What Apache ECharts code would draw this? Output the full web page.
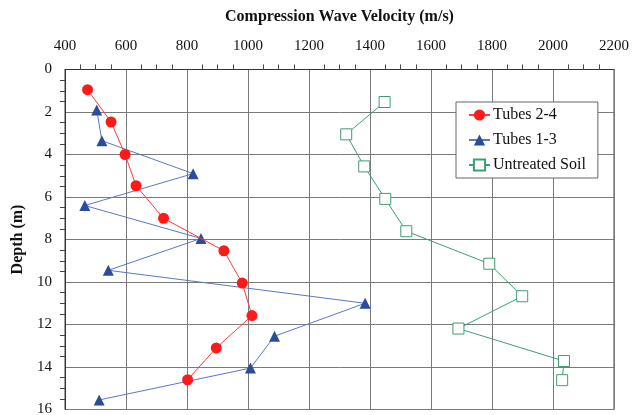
<!DOCTYPE html>
<html>
<head>
<meta charset="utf-8">
<script src="https://cdn.jsdelivr.net/npm/echarts@6/dist/echarts.min.js"></script>
<style>html,body{margin:0;padding:0;background:#fff;}#c{width:632px;height:415px;}</style>
</head>
<body>
<div id="c"></div>
<script>
const xTicks = [400, 600, 800, 1000, 1200, 1400, 1600, 1800, 2000, 2200];
const yTicks = [0, 2, 4, 6, 8, 10, 12, 14, 16];

const tubes24Velocity = [474, 551, 597, 633, 723, 921, 981, 1013, 896, 802];
const tubes24Depth    = [0.95, 2.47, 4.0, 5.47, 7.0, 8.53, 10.05, 11.58, 13.1, 14.6];

const tubes13Velocity = [504, 521, 820, 465, 846, 542, 1384, 1087, 1008, 512];
const tubes13Depth    = [1.9, 3.35, 4.9, 6.4, 7.95, 9.45, 11.0, 12.55, 14.05, 15.55];

const soilVelocity = [1448, 1322, 1381, 1450, 1519, 1791, 1899, 1690, 2036, 2030];
const soilDepth    = [1.53, 3.05, 4.56, 6.09, 7.61, 9.14, 10.67, 12.19, 13.72, 14.62];

const seriesNames = ['Tubes 2-4', 'Tubes 1-3', 'Untreated Soil'];

function pairs(xs, ys) { return xs.map((v, i) => [v, ys[i]]); }

const FONT = '"Liberation Serif", "Times New Roman", serif';
const chart = echarts.init(document.getElementById('c'), null, {renderer: 'canvas'});
chart.setOption({
  animation: false,
  backgroundColor: '#fff',
  textStyle: {fontFamily: FONT, color: '#111'},
  grid: {left: 65, right: 18, top: 69.5, bottom: 5.5, containLabel: false, outerBoundsMode: 'none',
         show: true, borderColor: '#444', borderWidth: 1, backgroundColor: 'transparent'},
  legend: {
    data: seriesNames,
    orient: 'vertical',
    left: 456, top: 102,
    padding: [5, 12, 5, 12],
    itemGap: 9, itemWidth: 21, itemHeight: 14,
    backgroundColor: '#fff', borderColor: '#666', borderWidth: 1,
    textStyle: {fontFamily: FONT, fontSize: 16, color: '#111', padding: [0, 0, 0, -2]}
  },
  xAxis: {
    type: 'value', position: 'top',
    min: xTicks[0], max: xTicks[xTicks.length - 1], interval: 200,
    name: 'Compression Wave Velocity (m/s)', nameLocation: 'middle', nameGap: 45,
    nameTextStyle: {fontFamily: FONT, fontSize: 16, fontWeight: 'bold', color: '#111'},
    axisLine: {show: true, lineStyle: {color: '#333', width: 1}},
    axisTick: {show: false},
    minorTick: {show: true, splitNumber: 4, length: 5, lineStyle: {color: '#444'}},
    axisLabel: {fontFamily: FONT, fontSize: 15, color: '#111', margin: 16, formatter: v => String(v)},
    splitLine: {show: true, lineStyle: {color: '#7a7a7a', width: 1}}
  },
  yAxis: {
    type: 'value', inverse: true,
    min: yTicks[0], max: yTicks[yTicks.length - 1], interval: 2,
    name: 'Depth (m)', nameLocation: 'middle', nameGap: 39, nameRotate: 90,
    nameTextStyle: {fontFamily: FONT, fontSize: 16, fontWeight: 'bold', color: '#111'},
    axisLine: {show: true, lineStyle: {color: '#333', width: 1}},
    axisTick: {show: false},
    minorTick: {show: true, splitNumber: 4, length: 5, lineStyle: {color: '#444'}},
    axisLabel: {fontFamily: FONT, fontSize: 15, color: '#111', margin: 13, formatter: v => String(v)},
    splitLine: {show: true, lineStyle: {color: '#7a7a7a', width: 1}}
  },
  series: [
    {
      name: seriesNames[0], type: 'line', data: pairs(tubes24Velocity, tubes24Depth),
      symbol: 'circle', symbolSize: 11,
      itemStyle: {color: '#ff1a1a'},
      lineStyle: {color: '#ff3b3b', width: 1}, z: 4
    },
    {
      name: seriesNames[1], type: 'line', data: pairs(tubes13Velocity, tubes13Depth),
      symbol: 'triangle', symbolSize: 11,
      itemStyle: {color: '#2b4c9c'},
      lineStyle: {color: '#5a78c4', width: 1}, z: 3
    },
    {
      name: seriesNames[2], type: 'line', data: pairs(soilVelocity, soilDepth),
      symbol: 'rect', symbolSize: 11,
      itemStyle: {color: '#fff', borderColor: '#3f9e6e', borderWidth: 1},
      lineStyle: {color: '#3f9e6e', width: 1}, z: 2
    }
  ]
});
</script>
</body>
</html>
